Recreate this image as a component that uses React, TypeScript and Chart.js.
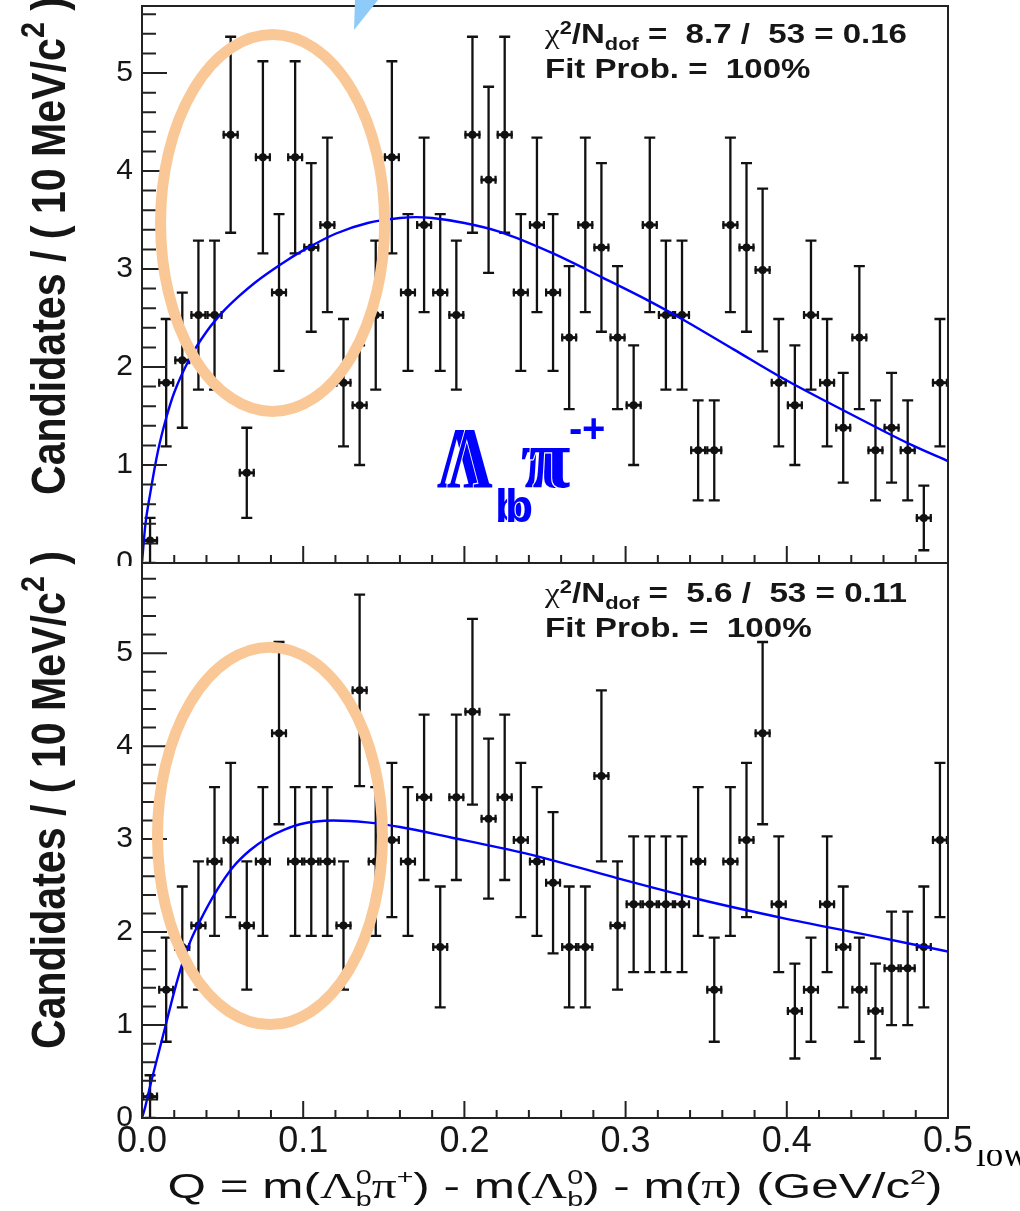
import React, { useEffect, useRef } from 'react';
import { Chart, registerables } from 'chart.js';

Chart.register(...registerables);

// ---------------- data ----------------
const BIN_CENTERS = [
  0.005, 0.015, 0.025, 0.035, 0.045, 0.055, 0.065, 0.075, 0.085, 0.095,
  0.105, 0.115, 0.125, 0.135, 0.145, 0.155, 0.165, 0.175, 0.185, 0.195,
  0.205, 0.215, 0.225, 0.235, 0.245, 0.255, 0.265, 0.275, 0.285, 0.295,
  0.305, 0.315, 0.325, 0.335, 0.345, 0.355, 0.365, 0.375, 0.385, 0.395,
  0.405, 0.415, 0.425, 0.435, 0.445, 0.455, 0.465, 0.475, 0.485, 0.495,
];
const BIN_HALF_WIDTH = 0.005;

const TOP_VALUES = [
  0.23, 1.84, 2.07, 2.53, 2.53, 4.37, 0.92, 4.14, 2.76, 4.14,
  3.22, 3.45, 1.84, 1.61, 2.53, 4.14, 2.76, 3.45, 2.76, 2.53,
  4.37, 3.91, 4.37, 2.76, 3.45, 2.76, 2.30, 3.45, 3.22, 2.30,
  1.61, 3.45, 2.53, 2.53, 1.15, 1.15, 3.45, 3.22, 2.99, 1.84,
  1.61, 2.53, 1.84, 1.38, 2.30, 1.15, 1.38, 1.15, 0.46, 1.84,
];
const TOP_ERRORS = [
  0.23, 0.65, 0.69, 0.76, 0.76, 1.00, 0.46, 0.98, 0.80, 0.98,
  0.86, 0.89, 0.65, 0.61, 0.76, 0.98, 0.80, 0.89, 0.80, 0.76,
  1.00, 0.95, 1.00, 0.80, 0.89, 0.80, 0.73, 0.89, 0.86, 0.73,
  0.61, 0.89, 0.76, 0.76, 0.51, 0.51, 0.89, 0.86, 0.83, 0.65,
  0.61, 0.76, 0.65, 0.56, 0.73, 0.51, 0.56, 0.51, 0.33, 0.65,
];
const BOTTOM_VALUES = [
  0.23, 1.38, 1.84, 2.07, 2.76, 2.99, 2.07, 2.76, 4.14, 2.76,
  2.76, 2.76, 2.07, 4.60, 2.76, 2.99, 2.76, 3.45, 1.84, 3.45,
  4.37, 3.22, 3.45, 2.99, 2.76, 2.53, 1.84, 1.84, 3.68, 2.07,
  2.30, 2.30, 2.30, 2.30, 2.76, 1.38, 2.76, 2.99, 4.14, 2.30,
  1.15, 1.38, 2.30, 1.84, 1.38, 1.15, 1.61, 1.61, 1.84, 2.99,
];
const BOTTOM_ERRORS = [
  0.23, 0.56, 0.65, 0.69, 0.80, 0.83, 0.69, 0.80, 0.98, 0.80,
  0.80, 0.80, 0.69, 1.03, 0.80, 0.83, 0.80, 0.89, 0.65, 0.89,
  1.00, 0.86, 0.89, 0.83, 0.80, 0.76, 0.65, 0.65, 0.92, 0.69,
  0.73, 0.73, 0.73, 0.73, 0.80, 0.56, 0.80, 0.83, 0.98, 0.73,
  0.51, 0.56, 0.73, 0.65, 0.56, 0.51, 0.61, 0.61, 0.65, 0.83,
];

const TOP_FIT_X = [0, 0.002, 0.005, 0.01, 0.015, 0.02, 0.03, 0.04, 0.05, 0.06, 0.07, 0.08, 0.09, 0.1, 0.12, 0.14, 0.16, 0.17, 0.18, 0.2, 0.222, 0.255, 0.286, 0.315, 0.336, 0.367, 0.398, 0.429, 0.456, 0.478, 0.5];
const TOP_FIT_Y = [0, 0.38, 0.7, 1.15, 1.48, 1.74, 2.1, 2.36, 2.56, 2.72, 2.86, 2.98, 3.09, 3.19, 3.36, 3.47, 3.52, 3.53, 3.52, 3.47, 3.38, 3.16, 2.91, 2.67, 2.48, 2.18, 1.88, 1.61, 1.38, 1.2, 1.04];
const BOTTOM_FIT_X = [0, 0.002, 0.005, 0.01, 0.015, 0.02, 0.025, 0.03, 0.036, 0.0465, 0.0565, 0.067, 0.0775, 0.088, 0.098, 0.1185, 0.1396, 0.16, 0.191, 0.2345, 0.253, 0.2947, 0.346, 0.3977, 0.4497, 0.5];
const BOTTOM_FIT_Y = [0, 0.12, 0.34, 0.68, 1.02, 1.36, 1.66, 1.9, 2.12, 2.45, 2.7, 2.88, 3.01, 3.1, 3.16, 3.2, 3.18, 3.13, 3.02, 2.86, 2.78, 2.58, 2.35, 2.15, 1.97, 1.79];

const X_TICKS = [0, 0.1, 0.2, 0.3, 0.4, 0.5];
const X_TICK_LABELS = ['0.0', '0.1', '0.2', '0.3', '0.4', '0.5'];
const Y_TICKS = [0, 1, 2, 3, 4, 5];
const Y_TICK_LABELS = ['0', '1', '2', '3', '4', '5'];

const TOP_CHI2 = '8.7';
const TOP_NDOF = '53';
const TOP_RATIO = '0.16';
const TOP_PROB = '100%';
const BOTTOM_CHI2 = '5.6';
const BOTTOM_NDOF = '53';
const BOTTOM_RATIO = '0.11';
const BOTTOM_PROB = '100%';

// ---------------- text helpers ----------------
const SANS = '"Liberation Sans", Arial, Helvetica, sans-serif';
const SERIF = '"Liberation Serif", "Times New Roman", Times, serif';

interface Seg { t: string; serif?: boolean; light?: boolean; sup?: string; sub?: string }
interface RichOpts {
  size: number; weight: string; scriptScale: number; supRise: number; subDrop: number;
  align: 'left' | 'center'; targetWidth?: number; scaleX?: number; scaleY?: number; color: string;
}

function segFont(size: number, weight: string, serif?: boolean) {
  return `${weight} ${size}px ${serif ? SERIF : SANS}`;
}

function measureRich(ctx: CanvasRenderingContext2D, segs: Seg[], o: RichOpts) {
  let w = 0;
  for (const s of segs) {
    ctx.font = segFont(o.size, s.light ? 'normal' : o.weight, s.serif);
    w += ctx.measureText(s.t).width;
    ctx.font = segFont(o.size * o.scriptScale, o.weight, false);
    const a = s.sup ? ctx.measureText(s.sup).width : 0;
    const b = s.sub ? ctx.measureText(s.sub).width : 0;
    w += Math.max(a, b);
  }
  return w;
}

function drawRich(ctx: CanvasRenderingContext2D, segs: Seg[], x: number, y: number, o: RichOpts) {
  const total = measureRich(ctx, segs, o);
  const sx = o.targetWidth ? o.targetWidth / total : (o.scaleX ?? 1);
  const sy = o.scaleY ?? 1;
  ctx.save();
  ctx.translate(x, y);
  ctx.scale(sx, sy);
  ctx.fillStyle = o.color;
  ctx.textBaseline = 'alphabetic';
  ctx.textAlign = 'left';
  let cx = o.align === 'center' ? -total / 2 : 0;
  for (const s of segs) {
    ctx.font = segFont(o.size, s.light ? 'normal' : o.weight, s.serif);
    ctx.fillText(s.t, cx, 0);
    cx += ctx.measureText(s.t).width;
    ctx.font = segFont(o.size * o.scriptScale, o.weight, false);
    let adv = 0;
    if (s.sup) { ctx.fillText(s.sup, cx, -o.supRise); adv = Math.max(adv, ctx.measureText(s.sup).width); }
    if (s.sub) { ctx.fillText(s.sub, cx, o.subDrop); adv = Math.max(adv, ctx.measureText(s.sub).width); }
    cx += adv;
  }
  ctx.restore();
  return sx;
}

// ---------------- panel spec ----------------
interface PanelSpec {
  canvasTop: number; canvasHeight: number; padTop: number; padBottom: number;
  showX: boolean; xAxisHeight: number; yMax: number;
  values: number[]; errors: number[]; fitX: number[]; fitY: number[];
  chi2: string; ndof: string; ratio: string; prob: string;
  statsBase: number; yTitleCenter: number;
  ellipse: { cx: number; cy: number; rx: number; ry: number };
  isTop: boolean;
}

function buildChart(canvas: HTMLCanvasElement, spec: PanelSpec) {
  const points = BIN_CENTERS.map((x, i) => ({ x, y: spec.values[i] }));
  const fit = spec.fitX.map((x, i) => ({ x, y: spec.fitY[i] }));

  const rootPlugin = {
    id: 'rootStyle',
    beforeDatasetsDraw(chart: any) {
      const { ctx, chartArea: a } = chart;
      const xs = chart.scales.x, ys = chart.scales.y;
      ctx.save();
      ctx.beginPath();
      ctx.rect(a.left, a.top, a.right - a.left, a.bottom - a.top);
      ctx.clip();
      ctx.strokeStyle = '#111';
      ctx.lineCap = 'butt';
      for (let i = 0; i < BIN_CENTERS.length; i++) {
        const v = spec.values[i], e = spec.errors[i];
        const px = xs.getPixelForValue(BIN_CENTERS[i]);
        const py = ys.getPixelForValue(v);
        const lo = ys.getPixelForValue(Math.max(0, v - e));
        const hi = ys.getPixelForValue(v + e);
        const xl = xs.getPixelForValue(BIN_CENTERS[i] - BIN_HALF_WIDTH);
        const xr = xs.getPixelForValue(BIN_CENTERS[i] + BIN_HALF_WIDTH);
        ctx.lineWidth = 2.3;
        ctx.beginPath();
        ctx.moveTo(px, lo); ctx.lineTo(px, hi);
        ctx.moveTo(px - 5.5, lo); ctx.lineTo(px + 5.5, lo);
        ctx.moveTo(px - 5.5, hi); ctx.lineTo(px + 5.5, hi);
        ctx.stroke();
        ctx.lineWidth = 3;
        ctx.beginPath();
        ctx.moveTo(xl, py); ctx.lineTo(xr, py);
        ctx.stroke();
        ctx.lineWidth = 2.2;
        ctx.beginPath();
        ctx.moveTo(xl + 1.1, py - 4); ctx.lineTo(xl + 1.1, py + 4);
        ctx.moveTo(xr - 1.1, py - 4); ctx.lineTo(xr - 1.1, py + 4);
        ctx.stroke();
      }
      ctx.restore();
    },
    afterDraw(chart: any) {
      const { ctx, chartArea: a } = chart;
      const xs = chart.scales.x, ys = chart.scales.y;
      ctx.save();
      // frame
      ctx.strokeStyle = '#222';
      ctx.lineWidth = 2;
      ctx.strokeRect(a.left, a.top, a.right - a.left, a.bottom - a.top);
      // y ticks (inside)
      ctx.lineWidth = 2;
      ctx.beginPath();
      for (let k = 0; k * 0.2 <= spec.yMax + 1e-9; k++) {
        const py = ys.getPixelForValue(k * 0.2);
        const len = k % 5 === 0 ? 25 : 14;
        ctx.moveTo(a.left, py); ctx.lineTo(a.left + len, py);
      }
      // x ticks (inside, bottom)
      for (let k = 0; k <= 25; k++) {
        const px = xs.getPixelForValue(k * 0.02);
        const len = k % 5 === 0 ? 17 : 8;
        ctx.moveTo(px, a.bottom); ctx.lineTo(px, a.bottom - len);
      }
      ctx.stroke();

      // stats box text
      const so: RichOpts = { size: 28, weight: 'bold', scriptScale: 0.66, supRise: 9, subDrop: 7, align: 'left', targetWidth: 362, color: '#161616' };
      const sx = drawRich(ctx, [
        { t: 'χ', serif: true, light: true, sup: '2' },
        { t: '/N', sub: 'dof' },
        { t: ` =  ${spec.chi2} /  ${spec.ndof} = ${spec.ratio}` },
      ], 545, spec.statsBase, so);
      drawRich(ctx, [{ t: `Fit Prob. =  ${spec.prob}` }], 545, spec.statsBase + 35, { ...so, targetWidth: undefined, scaleX: sx });

      // y axis title (rotated)
      ctx.save();
      ctx.translate(65, spec.yTitleCenter);
      ctx.rotate(-Math.PI / 2);
      drawRich(ctx, [{ t: 'Candidates / ( 10 MeV/c', sup: '2' }, { t: ' )' }], 0, 0,
        { size: 42, weight: 'bold', scriptScale: 0.7, supRise: 18, subDrop: 0, align: 'center', targetWidth: 498, scaleY: 1.16, color: '#161616' });
      ctx.restore();

      // x axis title (bottom only)
      if (!spec.isTop) {
        drawRich(ctx, [
          { t: 'Q = m(' },
          { t: 'Λ', serif: true, sup: '0', sub: 'b' },
          { t: 'π', serif: true, sup: '+' },
          { t: ') - m(' },
          { t: 'Λ', serif: true, sup: '0', sub: 'b' },
          { t: ') - m(' },
          { t: 'π', serif: true },
          { t: ') (GeV/c', sup: '2' },
          { t: ')' },
        ], 555, 650, { size: 35, weight: 'normal', scriptScale: 0.58, supRise: 14, subDrop: 8, align: 'center', targetWidth: 775, color: '#111' });
      }

      // orange highlight ellipse
      const el = spec.ellipse;
      const ecx = xs.getPixelForValue(el.cx), ecy = ys.getPixelForValue(el.cy);
      const erx = xs.getPixelForValue(el.cx + el.rx) - ecx;
      const ery = ecy - ys.getPixelForValue(el.cy + el.ry);
      ctx.strokeStyle = '#FAC896';
      ctx.lineWidth = 11;
      ctx.beginPath();
      ctx.ellipse(ecx, ecy, erx, ery, 0, 0, Math.PI * 2);
      ctx.stroke();

      if (spec.isTop) {
        // blue overlaid label  Λb π-/+  (two layers slightly shifted)
        ctx.textBaseline = 'alphabetic';
        ctx.textAlign = 'left';
        ctx.lineJoin = 'round';
        const layer = (off: number, outline: boolean) => {
          const put = (txt: string, font: string, x: number, y: number, scx: number) => {
            ctx.save();
            ctx.translate(x, y);
            ctx.scale(scx, 1);
            ctx.font = font;
            if (outline) {
              ctx.strokeStyle = '#fff';
              ctx.lineWidth = 2.2;
              ctx.strokeText(txt, 0, 0);
            }
            ctx.fillStyle = '#0000ff';
            ctx.fillText(txt, 0, 0);
            ctx.restore();
          };
          put('Λ', `bold 86px ${SERIF}`, 437 + off, 487, 0.74);
          put('b', `bold 46px ${SANS}`, 495 + off, 522, 1);
          put('π', `bold 84px ${SERIF}`, 521 + off * 0.8, 487, 0.9);
        };
        layer(0, false);
        layer(10, true);
        ctx.fillStyle = '#0000ff';
        ctx.font = `bold 40px ${SANS}`;
        ctx.fillText('-', 569, 442);
        ctx.fillText('+', 582, 442);

        // light blue wedge at top
        ctx.fillStyle = '#8FCBF8';
        ctx.beginPath();
        ctx.moveTo(355, 0); ctx.lineTo(378, 0); ctx.lineTo(354, 30); ctx.closePath();
        ctx.fill();
      }
      ctx.restore();
    },
  };

  return new Chart(canvas, {
    type: 'scatter',
    data: {
      datasets: [
        {
          data: fit, showLine: true, borderColor: '#0000ff', borderWidth: 2.4, pointRadius: 0,
          cubicInterpolationMode: 'monotone', fill: false,
        } as any,
        {
          data: points, pointRadius: 4, pointBackgroundColor: '#111', pointBorderWidth: 0,
          pointBorderColor: '#111', showLine: false,
        } as any,
      ],
    },
    options: {
      animation: false,
      responsive: false,
      devicePixelRatio: 1,
      events: [],
      layout: { autoPadding: false, padding: { left: 0, right: 72, top: spec.padTop, bottom: spec.padBottom } },
      plugins: { legend: { display: false }, tooltip: { enabled: false } },
      scales: {
        x: {
          type: 'linear', min: 0, max: 0.5, display: spec.showX,
          grid: { display: false, drawTicks: false }, border: { display: false },
          afterBuildTicks: (s: any) => { s.ticks = X_TICKS.map((value) => ({ value })); },
          afterFit: (s: any) => { s.height = spec.xAxisHeight; s.paddingLeft = 0; s.paddingRight = 0; s.paddingTop = 0; s.paddingBottom = 0; },
          ticks: {
            padding: 2, color: '#161616', maxRotation: 0, autoSkip: false,
            font: { family: SANS, size: 36 },
            callback: (_v: any, i: number) => X_TICK_LABELS[i],
          },
        },
        y: {
          type: 'linear', min: 0, max: spec.yMax,
          grid: { display: false, drawTicks: false }, border: { display: false },
          afterBuildTicks: (s: any) => { s.ticks = Y_TICKS.map((value) => ({ value })); },
          afterFit: (s: any) => { s.width = 142; s.paddingTop = 0; s.paddingBottom = 0; s.paddingLeft = 0; s.paddingRight = 0; },
          ticks: {
            padding: 9, color: '#161616', autoSkip: false,
            font: { family: SANS, size: 30 },
            callback: (_v: any, i: number) => Y_TICK_LABELS[i],
          },
        },
      },
    } as any,
    plugins: [rootPlugin],
  });
}

const TOP_SPEC: PanelSpec = {
  canvasTop: 0, canvasHeight: 566, padTop: 6, padBottom: 3, showX: false, xAxisHeight: 0, yMax: 5.684,
  values: TOP_VALUES, errors: TOP_ERRORS, fitX: TOP_FIT_X, fitY: TOP_FIT_Y,
  chi2: TOP_CHI2, ndof: TOP_NDOF, ratio: TOP_RATIO, prob: TOP_PROB,
  statsBase: 43, yTitleCenter: 246,
  ellipse: { cx: 0.081, cy: 3.47, rx: 0.0695, ry: 1.923 },
  isTop: true,
};

const BOTTOM_SPEC: PanelSpec = {
  canvasTop: 548, canvasHeight: 663, padTop: 15, padBottom: 0, showX: true, xAxisHeight: 93, yMax: 5.97,
  values: BOTTOM_VALUES, errors: BOTTOM_ERRORS, fitX: BOTTOM_FIT_X, fitY: BOTTOM_FIT_Y,
  chi2: BOTTOM_CHI2, ndof: BOTTOM_NDOF, ratio: BOTTOM_RATIO, prob: BOTTOM_PROB,
  statsBase: 54, yTitleCenter: 252,
  ellipse: { cx: 0.0794, cy: 3.035, rx: 0.0698, ry: 2.03 },
  isTop: false,
};

function Panel({ spec }: { spec: PanelSpec }) {
  const ref = useRef<HTMLCanvasElement>(null);
  useEffect(() => {
    const chart = buildChart(ref.current as HTMLCanvasElement, spec);
    return () => chart.destroy();
  }, [spec]);
  return (
    <canvas
      ref={ref}
      width={1020}
      height={spec.canvasHeight}
      style={{ position: 'absolute', left: 0, top: spec.canvasTop, width: 1020, height: spec.canvasHeight }}
    />
  );
}

export default function App() {
  return (
    <div style={{ position: 'absolute', left: 0, top: 0, width: 1020, height: 1211, background: '#fff', overflow: 'hidden' }}>
      <Panel spec={TOP_SPEC} />
      <Panel spec={BOTTOM_SPEC} />
      <div style={{ position: 'absolute', left: 976, top: 1150, width: 44, height: 24, overflow: 'hidden' }}>
        <span style={{ position: 'absolute', left: 0, top: -13, fontFamily: SERIF, fontSize: 35, lineHeight: '35px', color: '#000', whiteSpace: 'nowrap' }}>low</span>
      </div>
    </div>
  );
}
